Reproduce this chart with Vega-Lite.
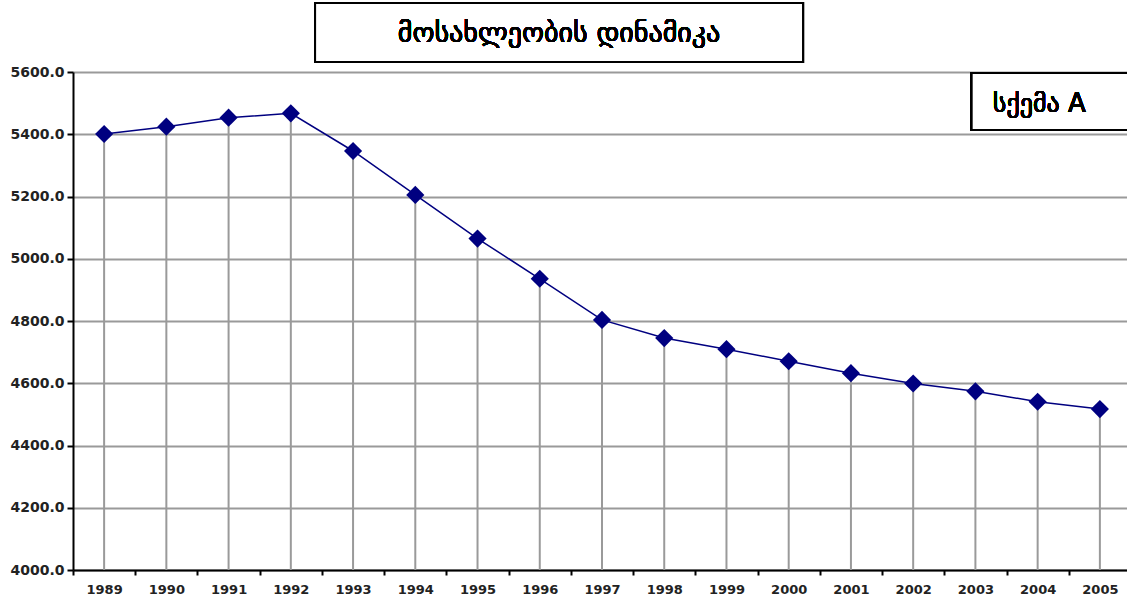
{
  "$schema": "https://vega.github.io/schema/vega-lite/v6.json",
  "width": 1058,
  "height": 498,
  "autosize": {"type": "none"},
  "padding": {"left": 73, "top": 72, "right": 0, "bottom": 32},
  "background": "white",
  "config": {"view": {"stroke": null}},
  "data": {"values": [
    {"year": "1989", "pop": 5400.8},
    {"year": "1990", "pop": 5424.4},
    {"year": "1991", "pop": 5453.2},
    {"year": "1992", "pop": 5467.1},
    {"year": "1993", "pop": 5346.2},
    {"year": "1994", "pop": 5205.2},
    {"year": "1995", "pop": 5064.8},
    {"year": "1996", "pop": 4935.7},
    {"year": "1997", "pop": 4803.5},
    {"year": "1998", "pop": 4745.1},
    {"year": "1999", "pop": 4709.6},
    {"year": "2000", "pop": 4670.6},
    {"year": "2001", "pop": 4632.3},
    {"year": "2002", "pop": 4599.3},
    {"year": "2003", "pop": 4574.1},
    {"year": "2004", "pop": 4540.6},
    {"year": "2005", "pop": 4516.9}
  ]},
  "layer": [
    {
      "encoding": {
        "x": {"field": "year", "type": "ordinal", "title": null,
          "scale": {"paddingInner": 0, "paddingOuter": 0},
          "axis": {"labelAngle": 0, "tickBand": "extent", "domainColor": "#000", "domainWidth": 2, "tickColor": "#000", "tickWidth": 2, "tickSize": 5, "labelFont": "DejaVu Sans", "labelFontSize": 13, "labelFontWeight": "bold", "labelColor": "#222", "labelPadding": 8, "grid": false}},
        "y": {"field": "pop", "type": "quantitative", "title": null,
          "scale": {"domain": [4000, 5600], "nice": false, "zero": false},
          "axis": {"values": [4000, 4200, 4400, 4600, 4800, 5000, 5200, 5400, 5600], "format": ".1f", "domainColor": "#000", "domainWidth": 2, "tickColor": "#000", "tickWidth": 2, "tickSize": 6, "labelFont": "DejaVu Sans", "labelFontSize": 14, "labelFontWeight": "bold", "labelColor": "#222", "labelPadding": 3, "gridColor": "#9a9a9a", "gridWidth": 2, "gridOpacity": 1}}
      },
      "layer": [
        {"mark": {"type": "rule", "color": "#9a9a9a", "strokeWidth": 2}, "encoding": {"y2": {"datum": 4000}}},
        {"mark": {"type": "line", "color": "#000080", "strokeWidth": 1.5}},
        {"mark": {"type": "point", "shape": "diamond", "filled": true, "color": "#000080", "opacity": 1, "size": 330}}
      ]
    },
    {
      "layer": [
        {
          "mark": {"type": "rect", "fill": "white", "stroke": "#000", "strokeWidth": 2},
          "encoding": {
            "x": {"datum": 1992.39, "type": "quantitative", "scale": {"domain": [1988.5, 2005.5], "nice": false, "zero": false}, "axis": null},
            "x2": {"datum": 2000.23},
            "y": {"datum": 5822, "type": "quantitative"},
            "y2": {"datum": 5632}
          }
        },
        {
          "mark": {"type": "text", "text": "მოსახლეობის დინამიკა", "font": "DejaVu Sans", "fontSize": 28, "color": "#000", "align": "center", "baseline": "middle"},
          "encoding": {
            "x": {"datum": 1996.31, "type": "quantitative", "scale": {"domain": [1988.5, 2005.5], "nice": false, "zero": false}, "axis": null},
            "y": {"datum": 5722, "type": "quantitative"}
          }
        },
        {
          "mark": {"type": "rect", "fill": "white", "stroke": "#000", "strokeWidth": 2},
          "encoding": {
            "x": {"datum": 2002.94, "type": "quantitative", "scale": {"domain": [1988.5, 2005.5], "nice": false, "zero": false}, "axis": null},
            "x2": {"datum": 2005.7},
            "y": {"datum": 5597, "type": "quantitative"},
            "y2": {"datum": 5414}
          }
        },
        {
          "mark": {"type": "text", "text": "სქემა A", "font": "DejaVu Sans", "fontSize": 26, "color": "#000", "align": "left", "baseline": "middle"},
          "encoding": {
            "x": {"datum": 2003.28, "type": "quantitative", "scale": {"domain": [1988.5, 2005.5], "nice": false, "zero": false}, "axis": null},
            "y": {"datum": 5497, "type": "quantitative"}
          }
        }
      ]
    }
  ],
  "resolve": {"scale": {"x": "independent"}}
}
